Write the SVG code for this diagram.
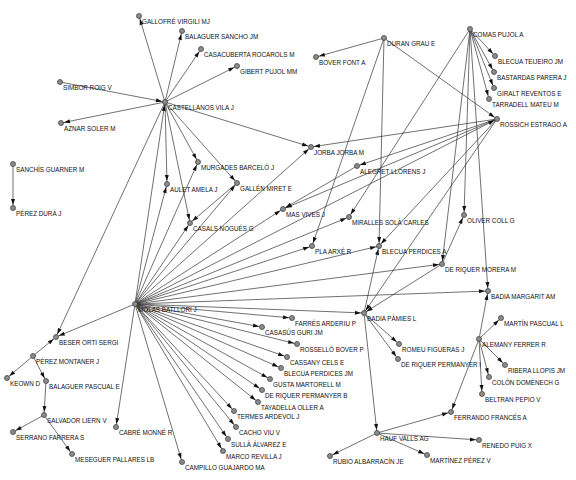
<svg xmlns="http://www.w3.org/2000/svg" width="576" height="480" viewBox="0 0 576 480">
<defs>
<style>
.e line{stroke:#333;stroke-width:0.7;marker-end:url(#a)}
.n circle{fill:#8c8c8c;stroke:#444;stroke-width:0.8}
.n text{font-family:"Liberation Sans Narrow","Liberation Sans",Arial,sans-serif;font-size:6.3px;fill:#111}
</style>
<marker id="a" viewBox="0 0 10 6" refX="9" refY="3" markerWidth="10" markerHeight="6" markerUnits="userSpaceOnUse" orient="auto" overflow="visible"><path d="M0,1 L6,3 L0,5 z" fill="#111"/></marker>
</defs>
<rect width="576" height="480" fill="#fff"/>
<g id="edges" class="e">
<line x1="165" y1="102" x2="139" y2="16"/>
<line x1="165" y1="102" x2="182" y2="31"/>
<line x1="165" y1="102" x2="201" y2="49"/>
<line x1="165" y1="102" x2="237" y2="66"/>
<line x1="60" y1="82" x2="165" y2="102"/>
<line x1="165" y1="102" x2="61" y2="123"/>
<line x1="165" y1="102" x2="311" y2="147"/>
<line x1="165" y1="102" x2="198" y2="162"/>
<line x1="165" y1="102" x2="167" y2="184"/>
<line x1="165" y1="102" x2="237" y2="183"/>
<line x1="165" y1="102" x2="190" y2="223"/>
<line x1="165" y1="102" x2="56" y2="337"/>
<line x1="135" y1="304" x2="165" y2="102"/>
<line x1="384" y1="38" x2="316" y2="57"/>
<line x1="384" y1="38" x2="497" y2="119"/>
<line x1="384" y1="38" x2="312" y2="246"/>
<line x1="384" y1="38" x2="379" y2="246"/>
<line x1="470" y1="29" x2="495" y2="56"/>
<line x1="470" y1="29" x2="494" y2="72"/>
<line x1="470" y1="29" x2="494" y2="88"/>
<line x1="470" y1="29" x2="489" y2="99"/>
<line x1="470" y1="29" x2="349" y2="217"/>
<line x1="470" y1="29" x2="442" y2="264"/>
<line x1="470" y1="29" x2="464" y2="215"/>
<line x1="470" y1="29" x2="488" y2="291"/>
<line x1="497" y1="119" x2="311" y2="147"/>
<line x1="497" y1="119" x2="357" y2="166"/>
<line x1="497" y1="119" x2="283" y2="209"/>
<line x1="497" y1="119" x2="379" y2="246"/>
<line x1="497" y1="119" x2="364" y2="313"/>
<line x1="357" y1="166" x2="283" y2="209"/>
<line x1="135" y1="304" x2="167" y2="184"/>
<line x1="135" y1="304" x2="198" y2="162"/>
<line x1="135" y1="304" x2="237" y2="183"/>
<line x1="135" y1="304" x2="190" y2="223"/>
<line x1="135" y1="304" x2="311" y2="147"/>
<line x1="135" y1="304" x2="283" y2="209"/>
<line x1="135" y1="304" x2="497" y2="119"/>
<line x1="135" y1="304" x2="349" y2="217"/>
<line x1="135" y1="304" x2="312" y2="246"/>
<line x1="135" y1="304" x2="379" y2="246"/>
<line x1="135" y1="304" x2="442" y2="264"/>
<line x1="135" y1="304" x2="488" y2="291"/>
<line x1="135" y1="304" x2="364" y2="313"/>
<line x1="135" y1="304" x2="56" y2="337"/>
<line x1="135" y1="304" x2="292" y2="318"/>
<line x1="135" y1="304" x2="262" y2="327"/>
<line x1="135" y1="304" x2="297" y2="344"/>
<line x1="135" y1="304" x2="287" y2="357"/>
<line x1="135" y1="304" x2="281" y2="368"/>
<line x1="135" y1="304" x2="270" y2="379"/>
<line x1="135" y1="304" x2="262" y2="390"/>
<line x1="135" y1="304" x2="258" y2="402"/>
<line x1="135" y1="304" x2="234" y2="411"/>
<line x1="135" y1="304" x2="236" y2="427"/>
<line x1="135" y1="304" x2="228" y2="439"/>
<line x1="135" y1="304" x2="223" y2="451"/>
<line x1="135" y1="304" x2="182" y2="462"/>
<line x1="135" y1="304" x2="116" y2="427"/>
<line x1="237" y1="183" x2="190" y2="223"/>
<line x1="442" y1="264" x2="464" y2="215"/>
<line x1="442" y1="264" x2="364" y2="313"/>
<line x1="364" y1="313" x2="379" y2="246"/>
<line x1="364" y1="313" x2="399" y2="344"/>
<line x1="364" y1="313" x2="398" y2="359"/>
<line x1="364" y1="313" x2="377" y2="433"/>
<line x1="13" y1="164" x2="13" y2="208"/>
<line x1="33" y1="356" x2="56" y2="337"/>
<line x1="33" y1="356" x2="7" y2="378"/>
<line x1="33" y1="356" x2="46" y2="381"/>
<line x1="46" y1="381" x2="44" y2="415"/>
<line x1="44" y1="415" x2="13" y2="432"/>
<line x1="44" y1="415" x2="72" y2="454"/>
<line x1="479" y1="339" x2="501" y2="318"/>
<line x1="479" y1="339" x2="505" y2="365"/>
<line x1="479" y1="339" x2="489" y2="377"/>
<line x1="479" y1="339" x2="482" y2="394"/>
<line x1="479" y1="339" x2="451" y2="412"/>
<line x1="479" y1="339" x2="488" y2="291"/>
<line x1="377" y1="433" x2="451" y2="412"/>
<line x1="377" y1="433" x2="479" y2="440"/>
<line x1="377" y1="433" x2="330" y2="456"/>
<line x1="377" y1="433" x2="427" y2="455"/>
</g>
<g id="n1" class="n"><circle cx="139" cy="16" r="2.5"/><text x="142" y="23.5">GALLOFRÉ VIRGILI MJ</text></g>
<g id="n2" class="n"><circle cx="182" cy="31" r="2.5"/><text x="185" y="38.5">BALAGUER SANCHO JM</text></g>
<g id="n3" class="n"><circle cx="201" cy="49" r="2.5"/><text x="204" y="56.5">CASACUBERTA ROCAROLS M</text></g>
<g id="n4" class="n"><circle cx="237" cy="66" r="2.5"/><text x="240" y="73.5">GIBERT PUJOL MM</text></g>
<g id="n5" class="n"><circle cx="60" cy="82" r="2.5"/><text x="63" y="89.5">SIMBOR ROIG V</text></g>
<g id="n6" class="n"><circle cx="165" cy="102" r="2.5"/><text x="168" y="109.5">CASTELLANOS VILA J</text></g>
<g id="n7" class="n"><circle cx="61" cy="123" r="2.5"/><text x="64" y="130.5">AZNAR SOLER M</text></g>
<g id="n8" class="n"><circle cx="384" cy="38" r="2.5"/><text x="387" y="45.5">DURAN GRAU E</text></g>
<g id="n9" class="n"><circle cx="316" cy="57" r="2.5"/><text x="319" y="64.5">BOVER FONT A</text></g>
<g id="n10" class="n"><circle cx="470" cy="29" r="2.5"/><text x="473" y="36.5">COMAS PUJOL A</text></g>
<g id="n11" class="n"><circle cx="495" cy="56" r="2.5"/><text x="498" y="63.5">BLECUA TEIJEIRO JM</text></g>
<g id="n12" class="n"><circle cx="494" cy="72" r="2.5"/><text x="497" y="79.5">BASTARDAS PARERA J</text></g>
<g id="n13" class="n"><circle cx="494" cy="88" r="2.5"/><text x="497" y="95.5">GIRALT REVENTOS E</text></g>
<g id="n14" class="n"><circle cx="489" cy="99" r="2.5"/><text x="492" y="106.5">TARRADELL MATEU M</text></g>
<g id="n15" class="n"><circle cx="497" cy="119" r="2.5"/><text x="500" y="126.5">ROSSICH ESTRAGO A</text></g>
<g id="n16" class="n"><circle cx="311" cy="147" r="2.5"/><text x="314" y="154.5">JORBA JORBA M</text></g>
<g id="n17" class="n"><circle cx="13" cy="164" r="2.5"/><text x="16" y="171.5">SANCHÍS GUARNER M</text></g>
<g id="n18" class="n"><circle cx="13" cy="208" r="2.5"/><text x="16" y="215.5">PÉREZ DURÀ J</text></g>
<g id="n19" class="n"><circle cx="198" cy="162" r="2.5"/><text x="201" y="169.5">MURGADES BARCELÓ J</text></g>
<g id="n20" class="n"><circle cx="167" cy="184" r="2.5"/><text x="170" y="191.5">AULET AMELA J</text></g>
<g id="n21" class="n"><circle cx="237" cy="183" r="2.5"/><text x="240" y="190.5">GALLÉN MIRET E</text></g>
<g id="n22" class="n"><circle cx="190" cy="223" r="2.5"/><text x="193" y="230.5">CASALS NOGUÉS G</text></g>
<g id="n23" class="n"><circle cx="283" cy="209" r="2.5"/><text x="286" y="216.5">MAS VIVES J</text></g>
<g id="n24" class="n"><circle cx="357" cy="166" r="2.5"/><text x="360" y="173.5">ALEGRET LLORENS J</text></g>
<g id="n25" class="n"><circle cx="349" cy="217" r="2.5"/><text x="352" y="224.5">MIRALLES SOLÀ CARLES</text></g>
<g id="n26" class="n"><circle cx="464" cy="215" r="2.5"/><text x="467" y="222.5">OLIVER COLL G</text></g>
<g id="n27" class="n"><circle cx="312" cy="246" r="2.5"/><text x="315" y="253.5">PLA ARXÉ R</text></g>
<g id="n28" class="n"><circle cx="379" cy="246" r="2.5"/><text x="382" y="253.5">BLECUA PERDICES A</text></g>
<g id="n29" class="n"><circle cx="442" cy="264" r="2.5"/><text x="445" y="271.5">DE RIQUER MORERA M</text></g>
<g id="n30" class="n"><circle cx="488" cy="291" r="2.5"/><text x="491" y="298.5">BADIA MARGARIT AM</text></g>
<g id="n31" class="n"><circle cx="135" cy="304" r="2.5"/><text x="138" y="311.5">MOLAS BATLLORI J</text></g>
<g id="n32" class="n"><circle cx="56" cy="337" r="2.5"/><text x="59" y="344.5">BESER ORTI SERGI</text></g>
<g id="n33" class="n"><circle cx="33" cy="356" r="2.5"/><text x="36" y="363.5">PÉREZ MONTANER J</text></g>
<g id="n34" class="n"><circle cx="7" cy="378" r="2.5"/><text x="10" y="385.5">KEOWN D</text></g>
<g id="n35" class="n"><circle cx="46" cy="381" r="2.5"/><text x="49" y="388.5">BALAGUER PASCUAL E</text></g>
<g id="n36" class="n"><circle cx="44" cy="415" r="2.5"/><text x="47" y="422.5">SALVADOR LIERN V</text></g>
<g id="n37" class="n"><circle cx="13" cy="432" r="2.5"/><text x="16" y="439.5">SERRANO FARRERA S</text></g>
<g id="n38" class="n"><circle cx="72" cy="454" r="2.5"/><text x="75" y="461.5">MESEGUER PALLARES LB</text></g>
<g id="n39" class="n"><circle cx="116" cy="427" r="2.5"/><text x="119" y="434.5">CABRÉ MONNÉ R</text></g>
<g id="n40" class="n"><circle cx="182" cy="462" r="2.5"/><text x="185" y="469.5">CAMPILLO GUAJARDO MA</text></g>
<g id="n41" class="n"><circle cx="223" cy="451" r="2.5"/><text x="226" y="458.5">MARCO REVILLA J</text></g>
<g id="n42" class="n"><circle cx="228" cy="439" r="2.5"/><text x="231" y="446.5">SULLÀ ÁLVAREZ E</text></g>
<g id="n43" class="n"><circle cx="236" cy="427" r="2.5"/><text x="239" y="434.5">CACHO VIU V</text></g>
<g id="n44" class="n"><circle cx="234" cy="411" r="2.5"/><text x="237" y="418.5">TERMES ARDEVOL J</text></g>
<g id="n45" class="n"><circle cx="258" cy="402" r="2.5"/><text x="261" y="409.5">TAYADELLA OLLER A</text></g>
<g id="n46" class="n"><circle cx="262" cy="390" r="2.5"/><text x="265" y="397.5">DE RIQUER PERMANYER B</text></g>
<g id="n47" class="n"><circle cx="270" cy="379" r="2.5"/><text x="273" y="386.5">GUSTA MARTORELL M</text></g>
<g id="n48" class="n"><circle cx="281" cy="368" r="2.5"/><text x="284" y="375.5">BLECUA PERDICES JM</text></g>
<g id="n49" class="n"><circle cx="287" cy="357" r="2.5"/><text x="290" y="364.5">CASSANY CELS E</text></g>
<g id="n50" class="n"><circle cx="297" cy="344" r="2.5"/><text x="300" y="351.5">ROSSELLÓ BOVER P</text></g>
<g id="n51" class="n"><circle cx="262" cy="327" r="2.5"/><text x="265" y="334.5">CASASÚS GURI JM</text></g>
<g id="n52" class="n"><circle cx="292" cy="318" r="2.5"/><text x="295" y="325.5">FARRÉS ARDERIU P</text></g>
<g id="n53" class="n"><circle cx="364" cy="313" r="2.5"/><text x="367" y="320.5">BADIA PÀMIES L</text></g>
<g id="n54" class="n"><circle cx="501" cy="318" r="2.5"/><text x="504" y="325.5">MARTÍN PASCUAL L</text></g>
<g id="n55" class="n"><circle cx="479" cy="339" r="2.5"/><text x="482" y="346.5">ALEMANY FERRER R</text></g>
<g id="n56" class="n"><circle cx="399" cy="344" r="2.5"/><text x="402" y="351.5">ROMEU FIGUERAS J</text></g>
<g id="n57" class="n"><circle cx="398" cy="359" r="2.5"/><text x="401" y="366.5">DE RIQUER PERMANYER I</text></g>
<g id="n58" class="n"><circle cx="505" cy="365" r="2.5"/><text x="508" y="372.5">RIBERA LLOPIS JM</text></g>
<g id="n59" class="n"><circle cx="489" cy="377" r="2.5"/><text x="492" y="384.5">COLÓN DOMÈNECH G</text></g>
<g id="n60" class="n"><circle cx="482" cy="394" r="2.5"/><text x="485" y="401.5">BELTRAN PEPIO V</text></g>
<g id="n61" class="n"><circle cx="451" cy="412" r="2.5"/><text x="454" y="419.5">FERRANDO FRANCÉS A</text></g>
<g id="n62" class="n"><circle cx="377" cy="433" r="2.5"/><text x="380" y="440.5">HAUF VALLS AG</text></g>
<g id="n63" class="n"><circle cx="479" cy="440" r="2.5"/><text x="482" y="447.5">RENEDO PUIG X</text></g>
<g id="n64" class="n"><circle cx="330" cy="456" r="2.5"/><text x="333" y="463.5">RUBIO ALBARRACÍN JE</text></g>
<g id="n65" class="n"><circle cx="427" cy="455" r="2.5"/><text x="430" y="462.5">MARTÍNEZ PÉREZ V</text></g>
</svg>
